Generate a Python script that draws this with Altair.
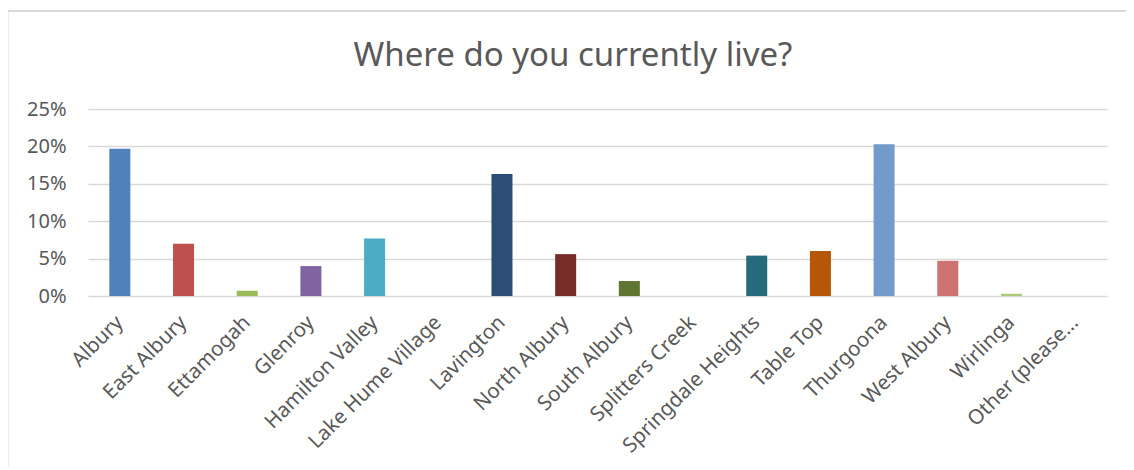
import altair as alt
import pandas as pd

categories = ["Albury", "East Albury", "Ettamogah", "Glenroy", "Hamilton Valley",
              "Lake Hume Village", "Lavington", "North Albury", "South Albury",
              "Splitters Creek", "Springdale Heights", "Table Top", "Thurgoona",
              "West Albury", "Wirlinga", "Other (please..."]
values = [0.197, 0.070, 0.007, 0.040, 0.077, 0.0, 0.163, 0.056, 0.020, 0.0,
          0.054, 0.060, 0.203, 0.047, 0.003, 0.0]
colors = ["#4F81BD", "#C0504D", "#9BBB59", "#8064A2", "#4BACC6", "#F79646",
          "#2C4D75", "#772C2A", "#5F7530", "#4D3B62", "#276A7C", "#B65708",
          "#729ACA", "#CD7371", "#AFC97A", "#A58CC0"]
y_ticks = [0, 0.05, 0.10, 0.15, 0.20, 0.25]
title_text = "Where do you currently live?"

df = pd.DataFrame({"place": categories, "share": values})

FONT = "Noto Sans"
GREY = "#595959"

bars = alt.Chart(df).mark_bar().encode(
    x=alt.X("place:N", sort=categories,
            scale=alt.Scale(paddingInner=0.67, paddingOuter=0.335),
            axis=alt.Axis(title=None, labelAngle=-45, labelAlign="right",
                          labelBaseline="middle", labelPadding=23,
                          labelFontSize=20.5, labelFont=FONT, labelColor=GREY,
                          ticks=False, domain=False, labelOverlap=False,
                          labelLimit=0)),
    y=alt.Y("share:Q", scale=alt.Scale(domain=[0, 0.25], nice=False),
            axis=alt.Axis(title=None, values=y_ticks, format=".0%",
                          labelFontSize=20, labelFont=FONT, labelColor=GREY,
                          labelPadding=22, ticks=False, domain=False,
                          grid=True, gridColor="#d9d9d9", gridWidth=1.5)),
    color=alt.Color("place:N", sort=categories,
                    scale=alt.Scale(domain=categories, range=colors),
                    legend=None),
)

one_row = pd.DataFrame({"k": [0]})
top_line = alt.Chart(one_row).mark_rule(color="#d9d9d9", strokeWidth=2).encode(
    x=alt.value(-81), x2=alt.value(1050), y=alt.value(-98))
left_line = alt.Chart(one_row).mark_rule(color="#d9d9d9", strokeWidth=2).encode(
    x=alt.value(-80.5), y=alt.value(-98), y2=alt.value(365))
title = alt.Chart(one_row).mark_text(
    font=FONT, fontSize=33, color=GREY, align="center", baseline="alphabetic"
).encode(x=alt.value(485), y=alt.value(-43), text=alt.value(title_text))

chart = alt.layer(bars, top_line, left_line, title).properties(
    width=1019, height=187,
    autosize=alt.AutoSizeParams(type="none"),
    padding={"left": 80, "top": 101, "right": 19, "bottom": 170},
).configure_view(stroke=None)

chart.save("out.html", embed_options={"renderer": "svg", "actions": False})
